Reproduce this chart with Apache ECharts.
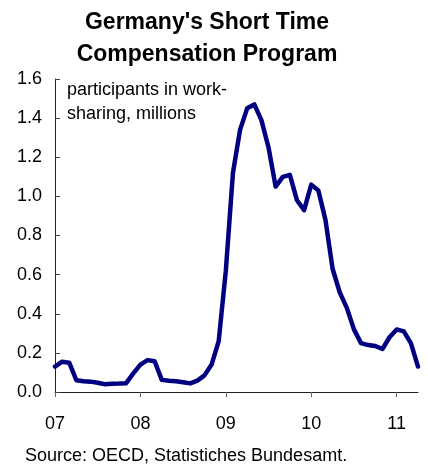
<!DOCTYPE html>
<html>
<head>
<meta charset="utf-8">
<script src="https://cdn.jsdelivr.net/npm/echarts@6/dist/echarts.min.js"></script>
<style>
  html, body { margin: 0; padding: 0; background: #fff; }
  #chart { width: 428px; height: 466px; }
</style>
</head>
<body>
<div id="chart"></div>
<script>
// Monthly figures, January 2007 to April 2011
const years = ['07', '08', '09', '10', '11'];
const monthsInLastYear = 4;

// Participants in work-sharing (millions), one value per month
const participants = [
  0.13, 0.155, 0.15, 0.06, 0.055, 0.053, 0.047, 0.04, 0.042, 0.043, 0.045, 0.095,
  0.14, 0.163, 0.157, 0.062, 0.058, 0.055, 0.05, 0.044, 0.058, 0.085, 0.14, 0.26,
  0.62, 1.12, 1.34, 1.45, 1.47, 1.39, 1.25, 1.05, 1.10, 1.11, 0.98, 0.93,
  1.06, 1.03, 0.88, 0.63, 0.51, 0.43, 0.32, 0.25, 0.24, 0.235, 0.22, 0.28,
  0.32, 0.31, 0.25, 0.13
];

const yTicks = [0, 0.2, 0.4, 0.6, 0.8, 1.0, 1.2, 1.4, 1.6];

// Category per month, e.g. "07-01"
const months = [];
years.forEach(function (y, i) {
  const n = i === years.length - 1 ? monthsInLastYear : 12;
  for (let m = 1; m <= n; m++) months.push(y + '-' + (m < 10 ? '0' + m : m));
});

const FONT = '"Liberation Sans", Arial, Helvetica, sans-serif';
const chart = echarts.init(document.getElementById('chart'), null, { renderer: 'canvas' });

chart.setOption({
  backgroundColor: '#ffffff',
  animation: false,
  grid: { left: 55, right: 10, top: 79, bottom: 74, containLabel: false },
  xAxis: {
    type: 'category',
    data: months,
    boundaryGap: false,
    axisLine: { lineStyle: { color: '#222', width: 1 } },
    axisTick: {
      inside: false, length: 5,
      interval: function (i) { return i % 12 === 0; },
      lineStyle: { color: '#666' }
    },
    axisLabel: {
      interval: function (i) { return i % 12 === 0; },
      formatter: function (v) { return v.split('-')[0]; },
      margin: 23,
      color: '#000', fontSize: 18, fontFamily: FONT
    },
    splitLine: { show: false }
  },
  yAxis: {
    type: 'value',
    min: yTicks[0],
    max: yTicks[yTicks.length - 1],
    interval: 0.2,
    axisLine: { show: true, lineStyle: { color: '#222', width: 1 } },
    axisTick: { show: true, inside: true, length: 5, lineStyle: { color: '#444' } },
    axisLabel: {
      formatter: function (v) { return v.toFixed(1); },
      margin: 13,
      color: '#000', fontSize: 18, fontFamily: FONT
    },
    splitLine: { show: false }
  },
  series: [{
    type: 'line',
    data: participants,
    symbol: 'none',
    smooth: false,
    lineStyle: { color: '#000080', width: 4.5, join: 'round', cap: 'round' }
  }],
  graphic: [
    { type: 'text', x: 207, y: 22.5, style: { text: "Germany's Short Time", font: 'bold 23px ' + FONT, fill: '#000', textAlign: 'center', textVerticalAlign: 'middle' } },
    { type: 'text', x: 207, y: 55, style: { text: 'Compensation Program', font: 'bold 23px ' + FONT, fill: '#000', textAlign: 'center', textVerticalAlign: 'middle' } },
    { type: 'text', x: 67, y: 90, style: { text: 'participants in work-', font: '18px ' + FONT, fill: '#000', textAlign: 'left', textVerticalAlign: 'middle' } },
    { type: 'text', x: 67, y: 114, style: { text: 'sharing, millions', font: '18px ' + FONT, fill: '#000', textAlign: 'left', textVerticalAlign: 'middle' } },
    { type: 'text', x: 25, y: 456, style: { text: 'Source: OECD, Statistiches Bundesamt.', font: '18px ' + FONT, fill: '#000', textAlign: 'left', textVerticalAlign: 'middle' } }
  ]
});
</script>
</body>
</html>
